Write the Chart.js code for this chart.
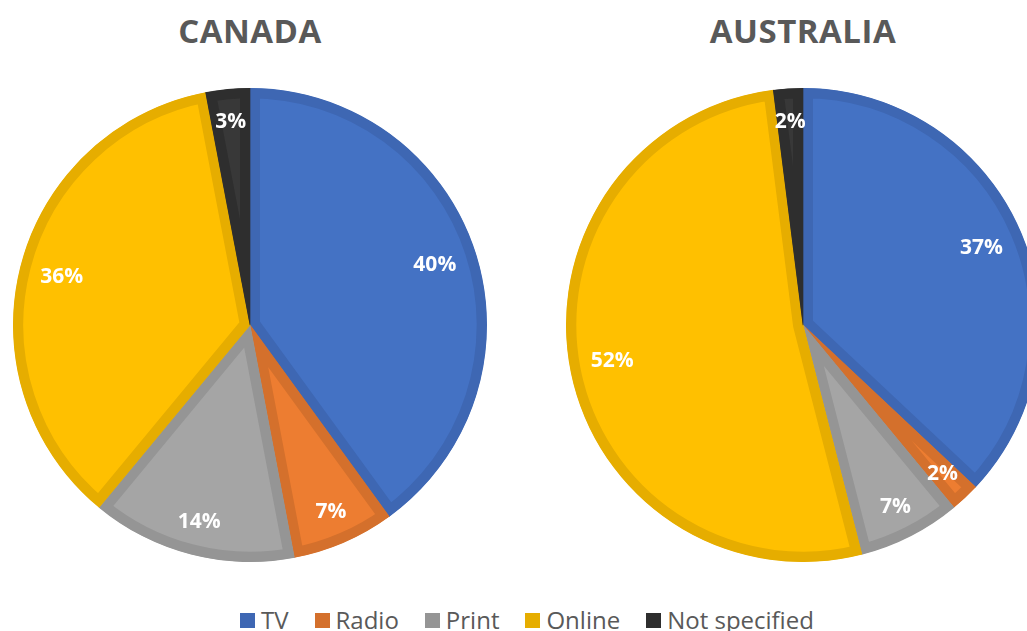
<!DOCTYPE html>
<html>
<head>
<meta charset="utf-8">
<script src="https://cdn.jsdelivr.net/npm/chart.js@4.4.1/dist/chart.umd.min.js"></script>
<style>
  html, body { margin:0; padding:0; width:1027px; height:631px; overflow:hidden; background:#fff; }
  .title { position:absolute; top:8px; font-family:"Open Sans", sans-serif; font-weight:700; font-size:33px; color:#595959; transform:translateX(-50%); white-space:nowrap; letter-spacing:0.5px; }
  .pie { position:absolute; top:88px; width:474px; height:474px; }
  #legend { position:absolute; left:240px; top:603px; display:flex; font-family:"Open Sans", sans-serif; font-size:24px; color:#595959; white-space:nowrap; }
  .item { display:flex; align-items:center; margin-right:26px; }
  .box { width:15px; height:15px; margin-right:6px; margin-top:2px; }
</style>
</head>
<body>
<div class="title" style="left:250px">CANADA</div>
<div class="title" style="left:803px">AUSTRALIA</div>
<div class="pie" style="left:13px"><canvas id="c1"></canvas></div>
<div class="pie" style="left:566px"><canvas id="c2"></canvas></div>
<div id="legend"></div>
<script>
const categories = ["TV", "Radio", "Print", "Online", "Not specified"];
const canadaValues = [40, 7, 14, 36, 3];
const australiaValues = [37, 2, 7, 52, 2];
const fillColors = ["#4472C4", "#ED7D31", "#A5A5A5", "#FFC000", "#383838"];
const borderColors = ["#3E67B3", "#D4702C", "#959595", "#E6AD00", "#2E2E2E"];

const labelPlugin = {
  id: 'sliceLabels',
  afterDatasetsDraw(chart) {
    const ctx = chart.ctx;
    const meta = chart.getDatasetMeta(0);
    const vals = chart.data.datasets[0].data;
    ctx.save();
    ctx.fillStyle = '#ffffff';
    ctx.font = 'bold 21px "Open Sans", sans-serif';
    ctx.textAlign = 'center';
    ctx.textBaseline = 'middle';
    meta.data.forEach((arc, i) => {
      const p = arc.getProps(['x','y','startAngle','endAngle','outerRadius'], true);
      const mid = (p.startAngle + p.endAngle) / 2;
      const frac = vals[i] >= 20 ? 0.82 : 0.86;
      const r = p.outerRadius * frac;
      ctx.fillText(vals[i] + '%', p.x + Math.cos(mid) * r, p.y + Math.sin(mid) * r);
    });
    ctx.restore();
  }
};

function makePie(id, values) {
  new Chart(document.getElementById(id), {
    type: 'pie',
    data: {
      labels: categories,
      datasets: [{
        data: values,
        backgroundColor: fillColors,
        borderColor: borderColors,
        borderWidth: 10,
        borderAlign: 'inner'
      }]
    },
    options: {
      responsive: true,
      maintainAspectRatio: false,
      animation: false,
      layout: { padding: 0 },
      plugins: { legend: { display: false }, tooltip: { enabled: false }, title: { display: false } }
    },
    plugins: [labelPlugin]
  });
}
makePie('c1', canadaValues);
makePie('c2', australiaValues);

const legend = document.getElementById('legend');
categories.forEach((c, i) => {
  const it = document.createElement('div');
  it.className = 'item';
  const b = document.createElement('div');
  b.className = 'box';
  b.style.background = borderColors[i];
  const t = document.createElement('span');
  t.textContent = c;
  it.appendChild(b); it.appendChild(t);
  legend.appendChild(it);
});
</script>
</body>
</html>
